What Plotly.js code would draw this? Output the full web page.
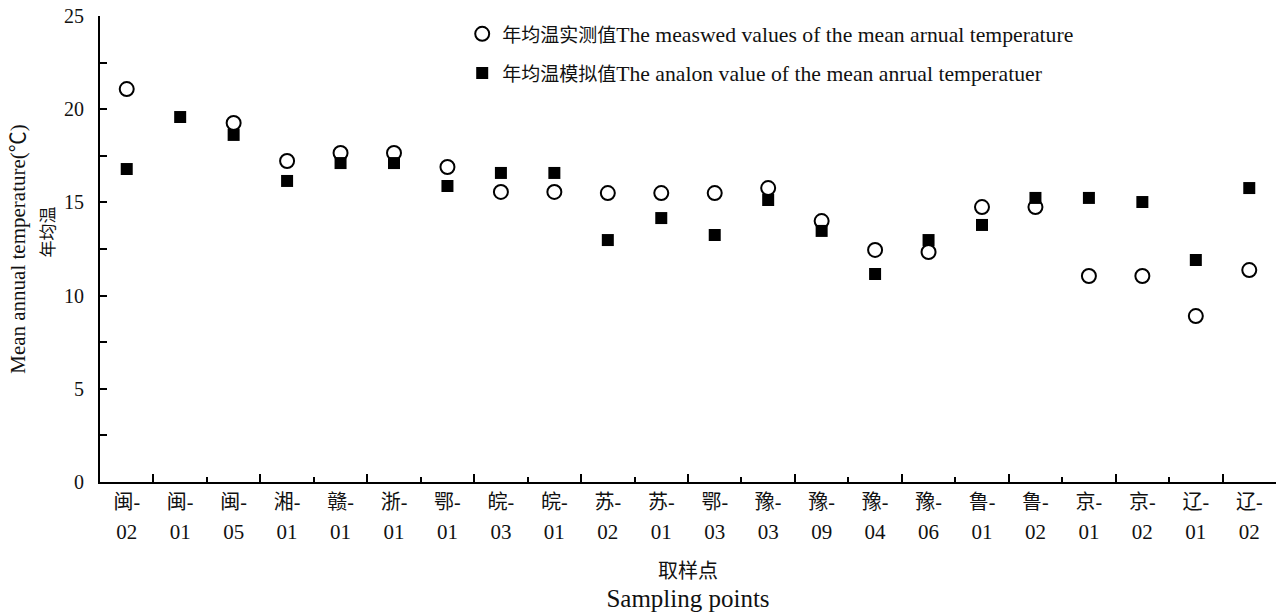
<!DOCTYPE html>
<html>
<head>
<meta charset="utf-8">
<script src="https://cdn.plot.ly/plotly-3.0.1.min.js"></script>
<style>html,body{margin:0;padding:0;background:#fff;}#chart{width:1280px;height:615px;}</style>
</head>
<body>
<div id="chart"></div>
<script>
const categories = ["闽-02","闽-01","闽-05","湘-01","赣-01","浙-01","鄂-01","皖-03","皖-01","苏-02","苏-01","鄂-03","豫-03","豫-09","豫-04","豫-06","鲁-01","鲁-02","京-01","京-02","辽-01","辽-02"];
const measured = [21.08, null, 19.26, 17.22, 17.65, 17.65, 16.9, 15.56, 15.56, 15.5, 15.5, 15.5, 15.77, 14.0, 12.45, 12.34, 14.75, 14.75, 11.05, 11.05, 8.9, 11.37];
const simulated = [16.79, 19.58, 18.62, 16.15, 17.11, 17.11, 15.88, 16.58, 16.58, 12.98, 14.16, 13.25, 15.13, 13.47, 11.16, 12.98, 13.79, 15.24, 15.24, 15.02, 11.91, 15.77];
const measuredCn = "年均温实测值", measuredEn = "The measwed values of the mean arnual temperature";
const simulatedCn = "年均温模拟值", simulatedEn = "The analon value of the mean anrual temperatuer";

const FONT = "'Liberation Serif', 'Times New Roman', 'Noto Sans CJK SC', serif";
const prefix = categories.map(c => c.split('-')[0] + '-');
const suffix = categories.map(c => c.split('-')[1]);
const idx = categories.map((c, i) => i);
const cn = s => '<span style="font-size:19px">' + s + '</span>';

const blank = {x: [null], y: [null], type: 'scatter', mode: 'markers', showlegend: false, hoverinfo: 'skip', marker: {opacity: 0}};
const traces = [
  {x: categories, y: measured, type: 'scatter', mode: 'markers', name: cn(measuredCn) + measuredEn, legendgroup: 'a',
   marker: {symbol: 'circle-open', size: 14, color: '#000', line: {width: 2, color: '#000'}}},
  {x: categories, y: simulated, type: 'scatter', mode: 'markers', name: cn(simulatedCn) + simulatedEn, legendgroup: 'b',
   marker: {symbol: 'square', size: 12, color: '#000'}},
  Object.assign({}, blank, {xaxis: 'x2', yaxis: 'y'}),
  Object.assign({}, blank, {xaxis: 'x3', yaxis: 'y'}),
  Object.assign({}, blank, {xaxis: 'x', yaxis: 'y2', x: [categories[0]]})
];

const rng = [-0.5, categories.length - 0.5];
const layout = {
  width: 1280, height: 615,
  margin: {l: 100, r: 4, t: 16, b: 133},
  paper_bgcolor: '#fff', plot_bgcolor: '#fff',
  font: {family: FONT, size: 19, color: '#111'},
  showlegend: true,
  legend: {x: 0.308, y: 1.006, xanchor: 'left', yanchor: 'top', bgcolor: 'rgba(0,0,0,0)',
           font: {family: FONT, size: 21.7, color: '#111'}, traceorder: 'grouped', tracegroupgap: 8},
  xaxis: {type: 'category', categoryarray: categories, range: rng, tickmode: 'array', tickvals: categories, ticktext: prefix,
          ticks: '', showline: true, linecolor: '#000', linewidth: 2, showgrid: false, zeroline: false,
          ticklabelstandoff: 1, automargin: false, tickfont: {family: FONT, size: 20, color: '#111'},
          title: {text: '取样点', font: {family: FONT, size: 20, color: '#111'}, standoff: 52}},
  xaxis2: {overlaying: 'x', anchor: 'y', side: 'bottom', range: rng, tickmode: 'array', tickvals: idx, ticktext: suffix,
           ticks: '', showline: false, showgrid: false, zeroline: false, ticklabelstandoff: 35, automargin: false,
           tickfont: {family: FONT, size: 21, color: '#111'},
           title: {text: 'Sampling points', font: {family: FONT, size: 25, color: '#111'}, standoff: 46}},
  xaxis3: {overlaying: 'x', anchor: 'y', side: 'bottom', range: rng, tickmode: 'linear', tick0: 0.5, dtick: 2,
           ticks: 'inside', ticklen: 8, tickwidth: 2, tickcolor: '#000', showticklabels: false, showline: false,
           showgrid: false, zeroline: false, automargin: false,
           minor: {tick0: 0.5, dtick: 1, ticks: 'inside', ticklen: 5, tickwidth: 2, tickcolor: '#000', showgrid: false}},
  yaxis: {range: [0, 25], tickmode: 'linear', tick0: 0, dtick: 5, ticks: 'inside', ticklen: 7, tickwidth: 2, tickcolor: '#000',
          minor: {dtick: 2.5, ticks: 'inside', ticklen: 7, tickwidth: 2, tickcolor: '#000', showgrid: false},
          showline: true, linecolor: '#000', linewidth: 2, showgrid: false, zeroline: false, automargin: false,
          ticklabelstandoff: 10, tickfont: {family: FONT, size: 20, color: '#111'},
          title: {text: 'Mean annual temperature(℃)', font: {family: FONT, size: 21, color: '#111'}, standoff: 33}},
  yaxis2: {overlaying: 'y', side: 'left', anchor: 'x', range: [0, 25], showticklabels: false, ticks: '', showline: false,
           showgrid: false, zeroline: false, automargin: false,
           title: {text: '<span style="fill:rgba(0,0,0,0);color:rgba(0,0,0,0)">年均</span>年均温', font: {family: FONT, size: 17, color: '#111'}, standoff: 40}}
};

Plotly.newPlot('chart', traces, layout, {displayModeBar: false, staticPlot: true});
</script>
</body>
</html>
